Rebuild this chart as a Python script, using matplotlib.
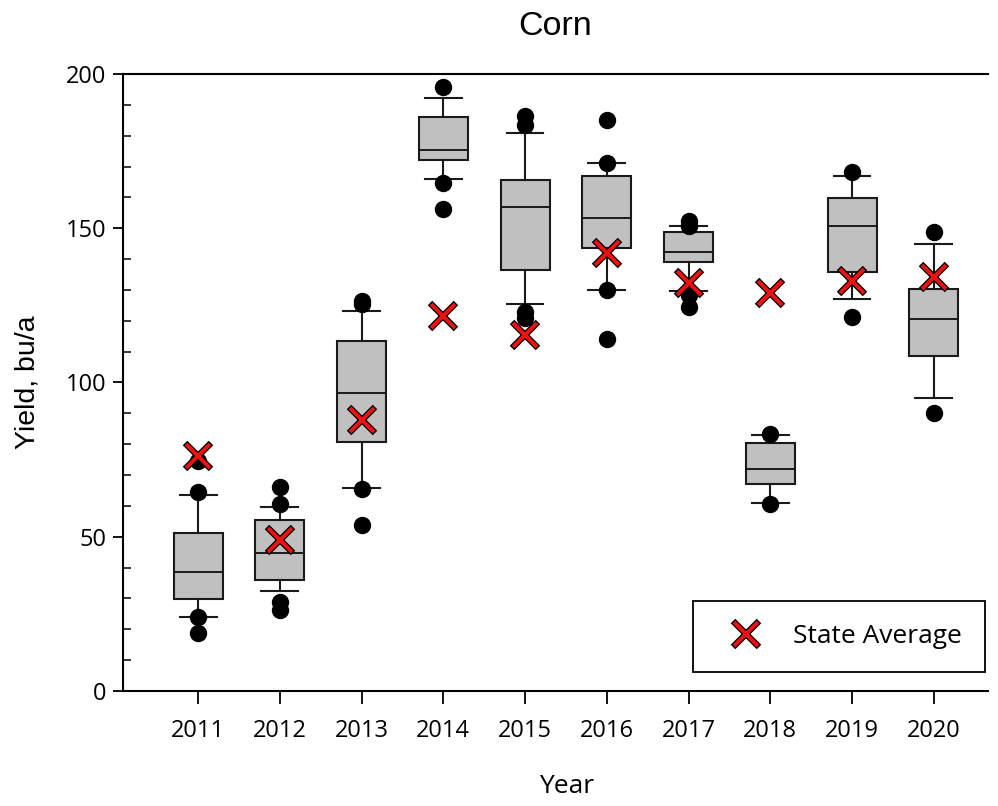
import numpy as np
import matplotlib.pyplot as plt
from matplotlib.legend_handler import HandlerTuple
from matplotlib.ticker import MultipleLocator

# data
years = [2011, 2012, 2013, 2014, 2015, 2016, 2017, 2018, 2019, 2020]
medians = [38.7, 44.8, 96.7, 175.4, 156.8, 153.4, 142.4, 71.9, 150.7, 120.5]
q1 = [29.8, 36.1, 80.7, 172.2, 136.5, 143.7, 139.1, 67.2, 135.8, 108.6]
q3 = [51.1, 55.4, 113.6, 186.1, 165.6, 166.9, 148.8, 80.5, 159.9, 130.3]
whis_lo = [24.1, 32.4, 65.9, 166.0, 125.4, 130.0, 129.8, 61.0, 127.2, 94.9]
whis_hi = [63.5, 59.5, 123.3, 192.3, 180.8, 171.0, 150.7, 83.0, 166.9, 145.0]
outliers = [
    [74.5, 64.6, 24.1, 18.7],
    [66.2, 60.6, 28.9, 26.4],
    [126.5, 125.3, 65.6, 53.8],
    [195.9, 164.6, 156.1],
    [186.4, 183.5, 123.0, 120.8],
    [185.1, 171.0, 130.0, 114.1],
    [152.3, 150.8, 128.4, 124.5],
    [83.2, 60.6],
    [168.3, 121.3],
    [148.7, 90.2],
]
state_avg = [76.2, 48.9, 87.8, 121.7, 115.4, 141.9, 132.1, 129.1, 133.0, 134.1]

stats = []
for i, yr in enumerate(years):
    stats.append(dict(med=medians[i], q1=q1[i], q3=q3[i],
                      whislo=whis_lo[i], whishi=whis_hi[i],
                      fliers=outliers[i], label=str(yr)))

tick_font = 'Open Sans'
fig = plt.figure(figsize=(9.98, 8.06), dpi=100)
ax = fig.add_axes([0.1232, 0.1427, 0.8665, 0.7655])

edge = '#1a1a1a'
ax.bxp(stats, positions=years, widths=0.6, capwidths=0.45,
       patch_artist=True, manage_ticks=False,
       boxprops=dict(facecolor='#c0c0c0', edgecolor=edge, linewidth=1.5),
       medianprops=dict(color=edge, linewidth=1.4),
       whiskerprops=dict(color=edge, linewidth=1.5),
       capprops=dict(color=edge, linewidth=1.5),
       flierprops=dict(marker='o', markerfacecolor='black',
                       markeredgecolor='black', markersize=11.5))

# red x with black outline
h_out, = ax.plot(years, state_avg, ls='none', marker='x', ms=18.5,
                 mew=4.6, color='black', zorder=5)
h_in, = ax.plot(years, state_avg, ls='none', marker='x', ms=17,
                mew=2.8, color='#ee1111', zorder=6)

ax.set_xlim(2010.08, 2020.66)
ax.set_ylim(0, 200)
ax.set_xticks(years)
ax.set_xticklabels([str(y) for y in years], fontfamily=tick_font, fontsize=17)
ax.yaxis.set_major_locator(MultipleLocator(50))
ax.yaxis.set_minor_locator(MultipleLocator(10))
for lbl in ax.get_yticklabels():
    lbl.set_fontfamily(tick_font)
    lbl.set_fontsize(17)

ax.tick_params(axis='x', which='major', direction='out', length=9,
               width=1.3, pad=11)
ax.tick_params(axis='y', which='major', direction='out', length=7,
               width=1.3, pad=5)
ax.tick_params(axis='y', which='minor', direction='in', length=6, width=1.1)

ax.spines['right'].set_visible(False)
for s in ['left', 'bottom', 'top']:
    ax.spines[s].set_linewidth(1.5)

ax.set_title('Corn', fontfamily='Liberation Sans', fontsize=24.5, pad=28)
ax.set_ylabel('Yield, bu/a', fontfamily='Liberation Sans', fontsize=20.5,
              labelpad=18)
ax.set_xlabel('Year', fontfamily=tick_font, fontsize=19, labelpad=24)
ax.xaxis.set_label_coords(0.513, -0.135)

leg = ax.legend([(h_out, h_in)], ['State Average'],
                handler_map={tuple: HandlerTuple(ndivide=1)},
                loc='lower right', bbox_to_anchor=(0.9965, 0.0308),
                prop={'family': tick_font, 'size': 19},
                frameon=True, fancybox=False, framealpha=1,
                edgecolor='black', borderpad=0.88, handlelength=2.3,
                handletextpad=0.6, borderaxespad=0)
leg.get_frame().set_linewidth(1.3)

fig.savefig('out.png', dpi=100)
